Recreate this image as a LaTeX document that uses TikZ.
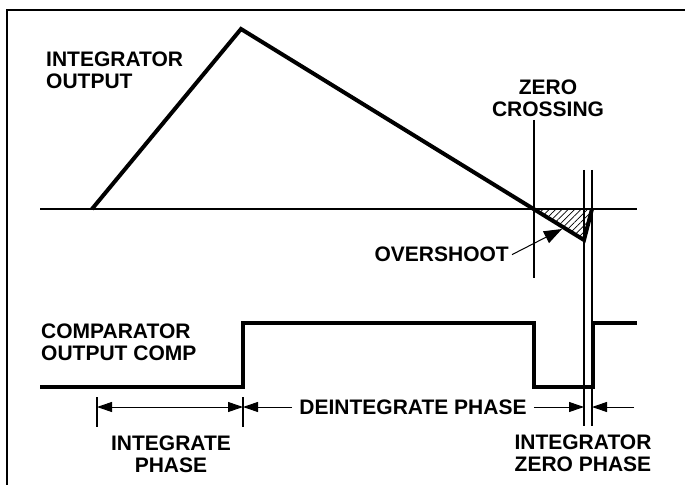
\documentclass[tikz,border=0pt]{standalone}
\usepackage{fontspec}
\setmainfont{Liberation Sans}
\usetikzlibrary{arrows.meta,patterns.meta}
\begin{document}
\begin{tikzpicture}[x=1bp,y=-1bp,
  lbl/.style={font=\fontsize{21bp}{22bp}\selectfont\bfseries, inner sep=0pt},
  thin line/.style={line width=1.1bp, black},
  thick wave/.style={line width=4bp, black, line join=miter},
  dim/.style={line width=1bp, -{Triangle[length=15bp,width=10bp]}},
  frame/.style={line width=1.6bp}]
\useasboundingbox (0,0) rectangle (685,485);
% frame (left and top edges)
\draw[frame] (7,485) -- (7,10) -- (685,10);
% coordinates
\coordinate (b0) at (40,209);
\coordinate (b1) at (637,209);
\coordinate (s0) at (92,209);
\coordinate (pk) at (241,29);
\coordinate (zc) at (534,209);
\coordinate (ov) at (584,240);
\coordinate (ze) at (592,209);
% hatched overshoot
\fill[pattern={Lines[angle=45,distance=4.5bp,line width=0.7bp]}] (zc) -- (ze) -- (ov) -- cycle;
% zero line
\draw[thin line] (b0) -- (b1);
% integrator output
\draw[thick wave] (s0) -- (pk) -- (ov) -- (ze);
% vertical markers
\coordinate (zct) at (534,120);
\coordinate (zcb) at (534,278);
\draw[thin line] (zct) -- (zcb);
\coordinate (v1t) at (584,170);
\coordinate (v1b) at (584,426);
\coordinate (v2t) at (592,170);
\coordinate (v2b) at (592,426);
\draw[thin line] (v1t) -- (v1b);
\draw[thin line] (v2t) -- (v2b);
\coordinate (t1t) at (97,397);
\coordinate (t1b) at (97,427);
\coordinate (t2t) at (243,397);
\coordinate (t2b) at (243,427);
\draw[thin line] (t1t) -- (t1b);
\draw[thin line] (t2t) -- (t2b);
% comparator output
\draw[thick wave] (40,387) -- (243,387) -- (243,323) -- (534,323) -- (534,387) -- (593,387) -- (593,323) -- (637,323);
% labels
\node[lbl, anchor=north west, align=left] (io) at (46,52) {INTEGRATOR\\OUTPUT};
\node[lbl, anchor=north, align=center] (zcl) at (548,80) {ZERO\\CROSSING};
\node[lbl, anchor=north east] (ovl) at (509,247) {OVERSHOOT};
\node[lbl, anchor=north west, align=left] (co) at (41,324) {COMPARATOR\\OUTPUT COMP};
\node[lbl, anchor=north, align=center] (ip) at (171,436) {INTEGRATE\\PHASE};
\node[lbl, anchor=north, align=center] (izp) at (583,435) {INTEGRATOR\\ZERO PHASE};
\node[lbl, inner xsep=7bp] (dp) at (413,407) {DEINTEGRATE PHASE};
% overshoot arrow
\coordinate (ovt) at (562,229);
\draw[dim, -{Triangle[length=18bp,width=13bp]}] (ovl.east) ++(3,0) -- (ovt);
% phase arrows
\coordinate (a1) at (97,407);
\coordinate (a2) at (243,407);
\coordinate (a3) at (584,407);
\coordinate (a4) at (592,407);
\coordinate (a5) at (634,407);
\draw[dim, {Triangle[length=15bp,width=10bp]}-{Triangle[length=15bp,width=10bp]}] (a1) -- (a2);
\draw[dim] (dp.west) -- (a2);
\draw[dim] (dp.east) -- (a3);
\draw[dim] (a5) -- (a4);
\end{tikzpicture}
\end{document}
